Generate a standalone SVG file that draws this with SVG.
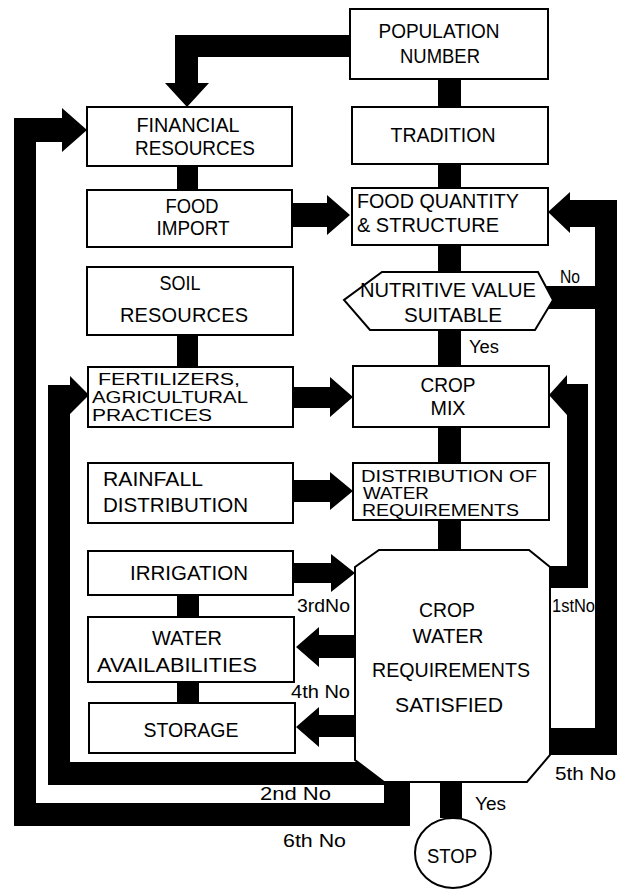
<svg xmlns="http://www.w3.org/2000/svg" width="617" height="890" viewBox="0 0 617 890">
<style>
.box{fill:#fff;stroke:#000;stroke-width:2}
.c{fill:#000;stroke:none}
text{font-family:"Liberation Sans",Arial,Helvetica,sans-serif;font-size:20px;fill:#000}
.m{text-anchor:middle}
.lb{font-size:18px}
.sm{font-size:16px}
</style>
<rect width="617" height="890" fill="#fff"/>
<g id="connectors">
<path class="c" d="M350,35 H175 V83 H165 L187,107 L209,83 H198 V57 H350 Z"/>
<rect class="c" x="438" y="78" width="23" height="30"/>
<rect class="c" x="438" y="163" width="23" height="26"/>
<rect class="c" x="438" y="244" width="23" height="30"/>
<rect class="c" x="438" y="328" width="23" height="39"/>
<rect class="c" x="438" y="426" width="23" height="38"/>
<rect class="c" x="438" y="519" width="23" height="33"/>
<rect class="c" x="177" y="165" width="21" height="26"/>
<rect class="c" x="177" y="334" width="21" height="34"/>
<rect class="c" x="177" y="594" width="22" height="24"/>
<rect class="c" x="177" y="681" width="22" height="23"/>
<path class="c" d="M292,203 H327 V195 L350,215 L327,235 V227 H292 Z"/>
<path class="c" d="M293,387 H330 V377 L353,397 L330,417 V408 H293 Z"/>
<path class="c" d="M293,480 H330 V472 L353,491 L330,510 V502 H293 Z"/>
<path class="c" d="M293,563 H331 V554 L355,573 L331,592 V583 H293 Z"/>
<path class="c" d="M357,635 H319 V627 L296,647 L319,667 V658 H357 Z"/>
<path class="c" d="M357,715 H319 V707 L296,727 L319,747 V737 H357 Z"/>
<rect class="c" x="440" y="780" width="22" height="38"/>
<path class="c" d="M545,286 H595 V227 H570 V233 L548,212 L570,192 V200 H617 V309 H545 Z"/>
<path class="c" d="M548,728 H595 V308 H617 V755 H548 Z"/>
<path class="c" d="M548,566 H567 V415 L549,395 L567,375 V384 H588 V588 H548 Z"/>
<path class="c" d="M384,762 H70 V414 L89,395 L70,376 V385 H48 V785 H384 Z"/>
<path class="c" d="M410,780 V826 H14 V118 H62 V108 L87,130 L62,152 V142 H36 V803 H384 V780 Z"/>
</g>
<g id="population"><rect class="box" x="350" y="9" width="198" height="70"/>
<text class="m" x="439" y="38" textLength="121" lengthAdjust="spacingAndGlyphs">POPULATION</text>
<text class="m" x="440" y="63" textLength="80" lengthAdjust="spacingAndGlyphs">NUMBER</text></g>
<g id="tradition"><rect class="box" x="352" y="107" width="196" height="57"/>
<text class="m" x="443" y="142" textLength="105" lengthAdjust="spacingAndGlyphs">TRADITION</text></g>
<g id="food-quantity"><rect class="box" x="352" y="188" width="196" height="57"/>
<text x="357" y="208" textLength="162" lengthAdjust="spacingAndGlyphs">FOOD QUANTITY</text>
<text x="357" y="232" textLength="142" lengthAdjust="spacingAndGlyphs">&amp; STRUCTURE</text></g>
<g id="nutritive-value"><polygon class="box" points="382,272 538,272 553,300 535,330 370,330 344,300"/>
<text x="360" y="297" textLength="176" lengthAdjust="spacingAndGlyphs">NUTRITIVE VALUE</text>
<text class="m" x="453" y="322" textLength="98" lengthAdjust="spacingAndGlyphs">SUITABLE</text></g>
<g id="crop-mix"><rect class="box" x="353" y="366" width="196" height="61"/>
<text class="m" x="448" y="392" textLength="55" lengthAdjust="spacingAndGlyphs">CROP</text>
<text class="m" x="448" y="415" textLength="35" lengthAdjust="spacingAndGlyphs">MIX</text></g>
<g id="distribution-water"><rect class="box" x="353" y="463" width="196" height="57"/>
<text class="sm" x="361" y="482" textLength="176" lengthAdjust="spacingAndGlyphs">DISTRIBUTION OF</text>
<text class="sm" x="363" y="499" textLength="66" lengthAdjust="spacingAndGlyphs">WATER</text>
<text class="sm" x="362" y="516" textLength="157" lengthAdjust="spacingAndGlyphs">REQUIREMENTS</text></g>
<g id="financial"><rect class="box" x="87" y="107" width="205" height="59"/>
<text class="m" x="188" y="132" textLength="103" lengthAdjust="spacingAndGlyphs">FINANCIAL</text>
<text class="m" x="195" y="155" textLength="120" lengthAdjust="spacingAndGlyphs">RESOURCES</text></g>
<g id="food-import"><rect class="box" x="87" y="190" width="205" height="57"/>
<text class="m" x="192" y="213" textLength="53" lengthAdjust="spacingAndGlyphs">FOOD</text>
<text class="m" x="193" y="235" textLength="73" lengthAdjust="spacingAndGlyphs">IMPORT</text></g>
<g id="soil"><rect class="box" x="87" y="267" width="206" height="68"/>
<text class="m" x="180" y="290" textLength="41" lengthAdjust="spacingAndGlyphs">SOIL</text>
<text class="m" x="184" y="322" textLength="128">RESOURCES</text></g>
<g id="fertilizers"><rect class="box" x="88" y="367" width="205" height="60"/>
<text class="sm" x="98" y="385" textLength="142" lengthAdjust="spacingAndGlyphs">FERTILIZERS,</text>
<text class="sm" x="92" y="403" textLength="156" lengthAdjust="spacingAndGlyphs">AGRICULTURAL</text>
<text class="sm" x="92" y="421" textLength="120" lengthAdjust="spacingAndGlyphs">PRACTICES</text></g>
<g id="rainfall"><rect class="box" x="88" y="463" width="205" height="60"/>
<text x="103" y="486" textLength="100" lengthAdjust="spacingAndGlyphs">RAINFALL</text>
<text x="103" y="512" textLength="145" lengthAdjust="spacingAndGlyphs">DISTRIBUTION</text></g>
<g id="irrigation"><rect class="box" x="88" y="551" width="205" height="44"/>
<text class="m" x="189" y="580" textLength="118" lengthAdjust="spacingAndGlyphs">IRRIGATION</text></g>
<g id="water-availabilities"><rect class="box" x="88" y="617" width="206" height="65"/>
<text class="m" x="187" y="645" textLength="70" lengthAdjust="spacingAndGlyphs">WATER</text>
<text class="m" x="177" y="672" textLength="160" lengthAdjust="spacingAndGlyphs">AVAILABILITIES</text></g>
<g id="storage"><rect class="box" x="89" y="703" width="206" height="50"/>
<text class="m" x="191" y="737" textLength="95" lengthAdjust="spacingAndGlyphs">STORAGE</text></g>
<g id="crop-water"><polygon class="box" points="379,550 529,550 550,567 550,755 527,782 384,782 355,760 355,567"/>
<text class="m" x="447" y="617" textLength="56" lengthAdjust="spacingAndGlyphs">CROP</text>
<text class="m" x="448" y="643" textLength="71" lengthAdjust="spacingAndGlyphs">WATER</text>
<text class="m" x="451" y="677" textLength="158" lengthAdjust="spacingAndGlyphs">REQUIREMENTS</text>
<text class="m" x="449" y="712" textLength="108" lengthAdjust="spacingAndGlyphs">SATISFIED</text></g>
<g id="stop"><ellipse class="box" cx="453" cy="853" rx="38" ry="35"/>
<text class="m" x="452" y="863" textLength="50" lengthAdjust="spacingAndGlyphs">STOP</text></g>
<g id="labels">
<text class="lb" x="560" y="283" textLength="20" lengthAdjust="spacingAndGlyphs">No</text>
<text class="lb" x="469" y="353" textLength="30" lengthAdjust="spacingAndGlyphs">Yes</text>
<text class="lb" x="297" y="612" textLength="53" lengthAdjust="spacingAndGlyphs">3rdNo</text>
<text class="lb" x="552" y="612" textLength="43" lengthAdjust="spacingAndGlyphs">1stNo</text>
<text class="lb" x="291" y="698" textLength="59" lengthAdjust="spacingAndGlyphs">4th No</text>
<text class="lb" x="555" y="780" textLength="61" lengthAdjust="spacingAndGlyphs">5th No</text>
<text class="lb" x="260" y="800" textLength="71" lengthAdjust="spacingAndGlyphs">2nd No</text>
<text class="lb" x="283" y="847" textLength="63" lengthAdjust="spacingAndGlyphs">6th No</text>
<text class="lb" x="475" y="810" textLength="31" lengthAdjust="spacingAndGlyphs">Yes</text>
</g>
</svg>
